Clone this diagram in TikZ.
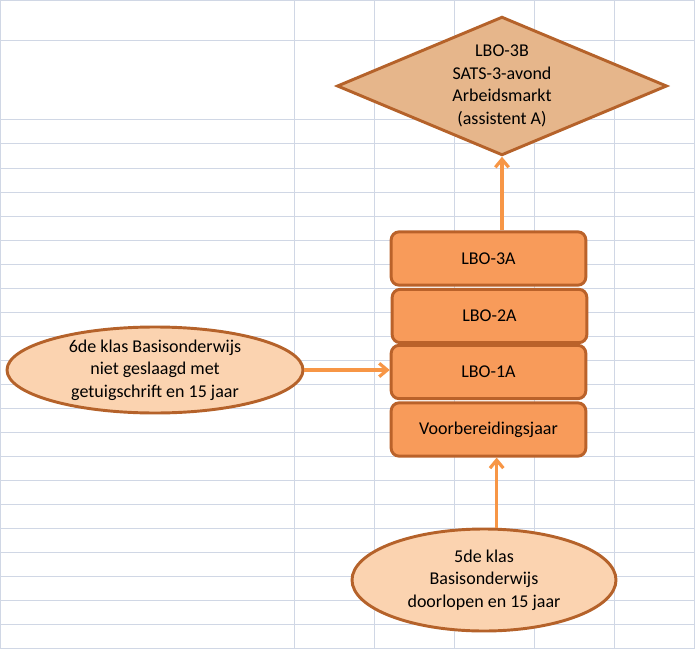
\documentclass[tikz,border=0pt]{standalone}
\usepackage{fontspec}
\setmainfont{Carlito}
\usetikzlibrary{shapes.geometric,arrows.meta}
\definecolor{gridc}{HTML}{D0D7E5}
\definecolor{diafill}{HTML}{E6B68B}
\definecolor{diaedge}{HTML}{B5622A}
\definecolor{boxfill}{HTML}{F89B5A}
\definecolor{boxedge}{HTML}{BA622A}
\definecolor{ellfill}{HTML}{FBD3B0}
\definecolor{elledge}{HTML}{B5622A}
\definecolor{arrc}{HTML}{F79646}
\begin{document}
\begin{tikzpicture}[x=0.75pt,y=-0.75pt,
  gridline/.style={draw=gridc,line width=0.75pt},
  txt/.style={font=\fontsize{13.5}{17}\selectfont,text=black,align=center},
  dia/.style={diamond,draw=diaedge,fill=diafill,line width=2.2pt,inner sep=0pt,
    aspect=2.37,minimum width=247.5pt,minimum height=104pt,txt},
  levelbox/.style={rectangle,rounded corners=6pt,draw=boxedge,fill=boxfill,line width=2.2pt,
    minimum width=146pt,minimum height=40pt,inner sep=0pt,txt},
  oval/.style={ellipse,draw=elledge,fill=ellfill,line width=2.2pt,inner sep=0pt},
  arr/.style={draw=arrc,line width=2.4pt,-{Straight Barb[length=6pt,width=10pt]}}
]
\useasboundingbox (0,0) rectangle (695,649);
\fill[white] (0,0) rectangle (695,649);
% spreadsheet grid
\foreach \gx in {0.5,294,374,454,534,614,694.5}
  \draw[gridline] (\gx,0) -- (\gx,649);
\foreach \gy in {0.5,41,120,144,168,192,216,240,264,288,312,336,360,384,408,432,456,480,504,528,552,576,600,624,648.5}
  \draw[gridline] (0,\gy) -- (695,\gy);

% diamond
\node[dia] (d) at (502,86) {LBO-3B\\SATS-3-avond\\Arbeidsmarkt\\(assistent A)};

% stacked boxes
\node[levelbox] (r3) at (488.5,258.5) {LBO-3A};
\node[levelbox] (r2) at (489.5,316) {LBO-2A};
\node[levelbox] (r1) at (488.5,372) {LBO-1A};
\node[levelbox] (v) at (488.5,429.5) {Voorbereidingsjaar};

% ellipses
\node[oval,minimum width=222pt,minimum height=64.5pt] (l) at (155,370) {};
\node[txt] (lt) at (l) {6de klas Basisonderwijs\\niet geslaagd met\\getuigschrift en 15 jaar};
\node[oval,minimum width=198pt,minimum height=76.5pt] (b) at (484,580) {};
\node[txt] (bt) at (b) {5de klas\\Basisonderwijs\\doorlopen en 15 jaar};

% connectors
\draw[arr] (l.east) -- (l.east -| r1.west);
\draw[arr] ([xshift=9.5]b.north) -- ([xshift=9.5]b.north |- v.south);
\draw[arr] (d.south |- r3.north) -- (d.south);
\end{tikzpicture}
\end{document}
